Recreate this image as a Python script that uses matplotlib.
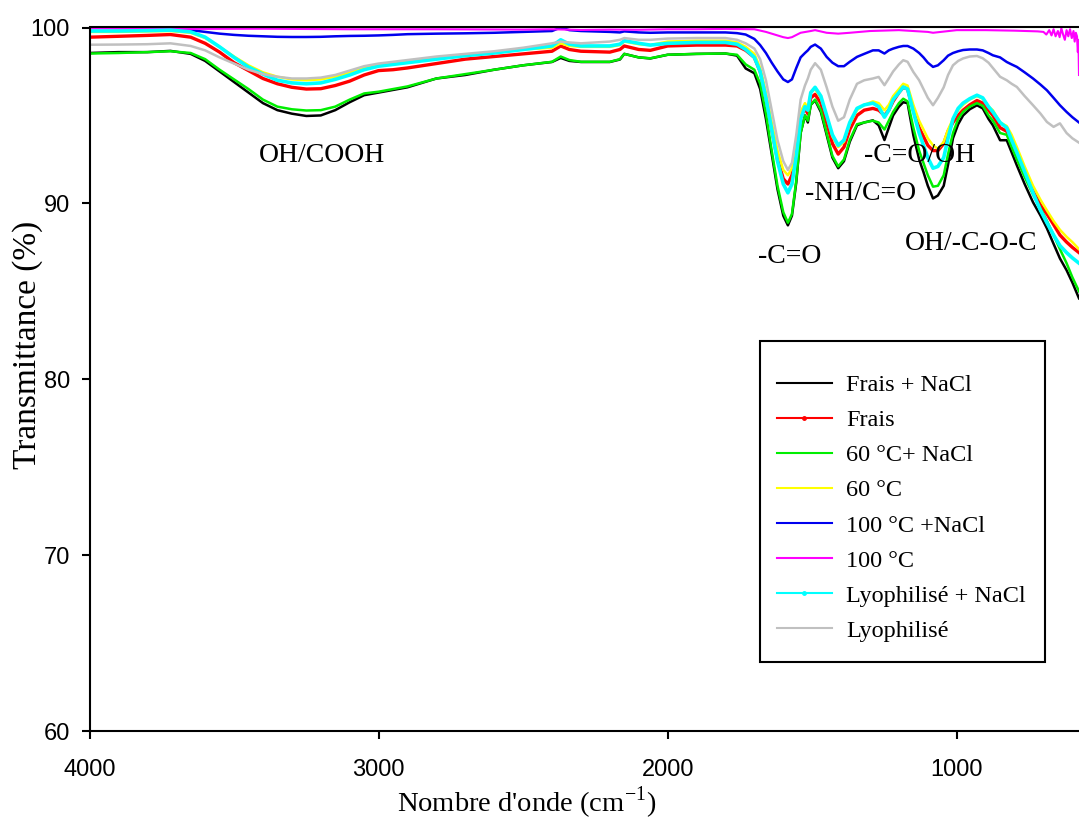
import matplotlib
matplotlib.use("Agg")
import matplotlib.pyplot as plt
from matplotlib.lines import Line2D
from matplotlib.patches import Rectangle

# Wavenumber grid (cm-1) shared by the main spectra
wavenumber = [4000, 3900, 3800, 3720, 3650, 3600, 3550, 3500, 3450, 3400, 3350, 3300,
              3250, 3200, 3150, 3100, 3050, 3000, 2950, 2900, 2800, 2700, 2600, 2500,
              2400, 2370, 2340, 2300, 2200, 2165, 2150, 2100, 2060, 2000, 1900, 1800,
              1760, 1730, 1700, 1680, 1660, 1640, 1620, 1600, 1584, 1570, 1555, 1540,
              1525, 1515, 1505, 1490, 1470, 1450, 1430, 1410, 1390, 1370, 1345, 1320,
              1290, 1270, 1250, 1235, 1220, 1200, 1185, 1170, 1150, 1130, 1115, 1100,
              1082, 1065, 1045, 1030, 1013, 995, 978, 955, 930, 910, 890, 875, 850,
              827, 810, 792, 765, 736, 710, 688, 665, 643, 620, 600, 577]

frais_nacl = [98.55, 98.6, 98.6, 98.67, 98.5, 98.1, 97.5, 96.9, 96.3, 95.7, 95.3, 95.1,
              94.97, 95.0, 95.3, 95.75, 96.15, 96.3, 96.45, 96.6, 97.1, 97.3, 97.6, 97.85,
              98.04, 98.27, 98.1, 98.04, 98.04, 98.18, 98.5, 98.3, 98.24, 98.45, 98.5, 98.52,
              98.4, 97.67, 97.4, 96.5, 94.8, 92.8, 90.8, 89.3, 88.75, 89.3, 91.2, 94.0,
              95.0, 94.6, 95.6, 95.86, 95.2, 93.9, 92.6, 92.0, 92.4, 93.5, 94.44, 94.6,
              94.72, 94.44, 93.6, 94.3, 95.0, 95.5, 95.75, 95.7, 93.87, 92.5, 91.78, 91.0,
              90.28, 90.45, 91.0, 92.2, 93.7, 94.5, 95.0, 95.35, 95.58, 95.4, 94.8, 94.44, 93.59,
              93.59, 92.9, 92.16, 91.1, 90.06, 89.3, 88.58, 87.7, 86.87, 86.2, 85.5, 84.6]

frais = [99.45, 99.5, 99.55, 99.6, 99.45, 99.1, 98.6, 98.0, 97.55, 97.1, 96.8, 96.6,
         96.5, 96.52, 96.7, 96.95, 97.3, 97.55, 97.6, 97.7, 97.95, 98.2, 98.35, 98.5,
         98.65, 98.95, 98.75, 98.65, 98.6, 98.75, 98.95, 98.75, 98.7, 98.95, 99.0, 99.0,
         98.95, 98.7, 98.3, 97.5, 96.0, 94.2, 92.5, 91.4, 91.1, 91.6, 93.0, 94.9,
         95.4, 95.1, 96.0, 96.2, 95.7, 94.6, 93.4, 92.8, 93.2, 94.2, 95.0, 95.3,
         95.4, 95.3, 95.0, 95.3, 95.8, 96.3, 96.6, 96.5, 95.3, 94.3, 93.8, 93.3,
         93.0, 93.0, 93.4, 94.1, 94.6, 95.0, 95.3, 95.6, 95.85, 95.7, 95.3, 95.0, 94.3,
         94.1, 93.6, 92.9, 91.8, 90.7, 89.9, 89.4, 88.8, 88.2, 87.8, 87.5, 87.2]

c60_nacl = [98.52, 98.55, 98.6, 98.65, 98.55, 98.2, 97.6, 97.05, 96.5, 95.9, 95.5, 95.35,
            95.28, 95.3, 95.5, 95.9, 96.25, 96.35, 96.5, 96.65, 97.1, 97.35, 97.6, 97.85,
            98.05, 98.35, 98.15, 98.05, 98.05, 98.2, 98.5, 98.3, 98.25, 98.45, 98.5, 98.52,
            98.45, 97.9, 97.6, 96.8, 95.1, 93.0, 91.0, 89.5, 88.9, 89.4, 91.3, 94.0,
            95.0, 94.7, 95.6, 95.9, 95.3, 94.0, 92.7, 92.1, 92.5, 93.6, 94.5, 94.6,
            94.7, 94.6, 94.2, 94.7, 95.2, 95.7, 95.95, 95.8, 94.3, 93.0, 92.3, 91.6,
            90.95, 91.0, 91.6, 92.8, 94.0, 94.8, 95.2, 95.5, 95.7, 95.55, 95.0, 94.7, 94.0,
            93.9, 93.2, 92.5, 91.5, 90.5, 89.7, 89.0, 88.2, 87.4, 86.6, 85.8, 85.0]

c60 = [99.75, 99.75, 99.78, 99.8, 99.7, 99.4, 98.9, 98.35, 97.85, 97.45, 97.2, 97.05,
       97.0, 97.05, 97.2, 97.45, 97.75, 97.9, 98.0, 98.1, 98.3, 98.45, 98.6, 98.75,
       98.85, 99.1, 98.95, 98.9, 98.9, 99.0, 99.2, 99.05, 99.0, 99.2, 99.25, 99.25,
       99.15, 98.9, 98.5, 97.7, 96.3, 94.6, 93.0, 91.9, 91.6, 92.0, 93.4, 95.2,
       95.7, 95.4, 96.3, 96.5, 96.0, 95.0, 93.8, 93.2, 93.5, 94.5, 95.3, 95.6,
       95.8, 95.7, 95.3, 95.6, 96.1, 96.5, 96.8, 96.7, 95.6, 94.7, 94.2, 93.7,
       93.3, 93.1, 93.5, 94.2, 94.8, 95.3, 95.6, 95.9, 96.1, 95.95, 95.5, 95.3, 94.6,
       94.4, 93.9, 93.2, 92.1, 91.0, 90.2, 89.6, 89.0, 88.5, 88.1, 87.8, 87.4]

c100_nacl = [100.0, 99.98, 99.97, 99.95, 99.85, 99.75, 99.65, 99.58, 99.53, 99.5, 99.47, 99.46,
             99.46, 99.47, 99.5, 99.52, 99.53, 99.55, 99.58, 99.62, 99.65, 99.67, 99.7, 99.75,
             99.8, 100.0, 99.85, 99.8, 99.75, 99.72, 99.78, 99.72, 99.7, 99.72, 99.72, 99.72,
             99.68, 99.6, 99.35, 99.0, 98.55, 98.0, 97.5, 97.05, 96.9, 97.05, 97.7, 98.3,
             98.55, 98.7, 98.9, 99.03, 98.8, 98.33, 98.0, 97.8, 97.8, 98.05, 98.33, 98.5,
             98.7, 98.7, 98.52, 98.7, 98.8, 98.9, 98.95, 98.95, 98.8, 98.55, 98.3, 98.0,
             97.76, 97.85, 98.14, 98.4, 98.55, 98.65, 98.72, 98.75, 98.75, 98.7, 98.55, 98.42, 98.3,
             98.04, 97.9, 97.76, 97.45, 97.1, 96.75, 96.43, 96.0, 95.58, 95.2, 94.9, 94.6]

lyo_nacl = [99.8, 99.8, 99.82, 99.85, 99.75, 99.45, 98.9, 98.3, 97.75, 97.35, 97.0, 96.85,
            96.8, 96.85, 97.05, 97.3, 97.6, 97.8, 97.9, 98.0, 98.2, 98.4, 98.55, 98.75,
            98.95, 99.3, 99.05, 98.95, 98.95, 99.05, 99.25, 99.1, 99.0, 99.1, 99.15, 99.15,
            99.05, 98.75, 98.3, 97.5, 96.0, 94.2, 92.4, 91.1, 90.6, 91.1, 92.7, 94.8,
            95.5, 95.3, 96.3, 96.6, 96.1, 95.0, 93.9, 93.3, 93.6, 94.6, 95.4, 95.6,
            95.7, 95.5, 94.9, 95.3, 95.9, 96.3, 96.62, 96.5, 95.2, 94.0, 93.3, 92.6,
            92.0, 92.1, 92.6, 93.7, 94.8, 95.4, 95.7, 95.95, 96.15, 96.0, 95.5, 95.2, 94.6,
            94.3, 93.6, 92.9, 91.8, 90.6, 89.6, 88.9, 88.2, 87.6, 87.2, 86.9, 86.6]

lyo = [99.02, 99.03, 99.05, 99.1, 98.95, 98.7, 98.3, 97.95, 97.6, 97.35, 97.2, 97.1,
       97.1, 97.15, 97.3, 97.55, 97.8, 97.95, 98.05, 98.15, 98.35, 98.5, 98.65, 98.85,
       99.1, 99.2, 99.15, 99.1, 99.2, 99.3, 99.4, 99.3, 99.3, 99.37, 99.4, 99.4,
       99.3, 99.1, 98.8, 98.2, 97.0, 95.3, 93.6, 92.4, 91.9, 92.3, 93.9, 95.9,
       96.7, 97.1, 97.6, 97.97, 97.6, 96.6, 95.5, 94.7, 94.9, 95.9, 96.8, 97.0,
       97.1, 97.19, 96.72, 97.1, 97.5, 97.9, 98.14, 98.05, 97.47, 97.0, 96.5, 96.0,
       95.58, 96.0, 96.6, 97.3, 97.85, 98.1, 98.24, 98.35, 98.38, 98.25, 98.0, 97.7, 97.2,
       97.0, 96.8, 96.62, 96.1, 95.58, 95.1, 94.63, 94.35, 94.55, 94.0, 93.7, 93.45]

# The 100 °C spectrum is sampled on its own grid (noisy low-wavenumber end)
wavenumber_c100 = [4000, 3700, 3400, 3100, 2800, 2500, 2400, 2300, 2200, 2100, 2000, 1900,
                   1800, 1700, 1660, 1620, 1600, 1584, 1570, 1540, 1505, 1490, 1450, 1410,
                   1370, 1300, 1200, 1100, 1082, 1000, 900, 800, 720, 700, 690, 680, 672,
                   665, 658, 650, 644, 638, 632, 626, 620, 614, 608, 602, 596, 592, 588,
                   584, 581, 579, 577]
c100 = [99.95, 99.92, 99.93, 99.9, 99.9, 99.88, 99.9, 99.86, 99.88, 99.87, 99.9, 99.9,
        99.92, 99.9, 99.75, 99.55, 99.45, 99.4, 99.45, 99.7, 99.8, 99.85, 99.7, 99.65,
        99.7, 99.8, 99.85, 99.75, 99.7, 99.85, 99.85, 99.82, 99.78, 99.75, 99.6, 99.85,
        99.55, 99.9, 99.5, 99.8, 99.45, 99.95, 99.6, 99.3, 99.85, 99.5, 99.9, 99.4,
        99.8, 99.2, 99.7, 99.5, 98.6, 99.3, 97.3]

series = [
    ("Frais + NaCl", wavenumber, frais_nacl, "#000000", 1.8),
    ("Frais", wavenumber, frais, "#ff0000", 2.4),
    ("60 °C+ NaCl", wavenumber, c60_nacl, "#00ee00", 1.8),
    ("60 °C", wavenumber, c60, "#ffff00", 1.8),
    ("100 °C +NaCl", wavenumber, c100_nacl, "#0000ee", 1.8),
    ("100 °C", wavenumber_c100, c100, "#ff00ff", 1.5),
    ("Lyophilisé + NaCl", wavenumber, lyo_nacl, "#00ffff", 2.6),
    ("Lyophilisé", wavenumber, lyo, "#c0c0c0", 1.8),
]

band_labels = ["OH/COOH", "-C=O", "-NH/C=O", "-C=O/OH", "OH/-C-O-C"]
band_x = [3194, 1577, 1331, 1129, 951]
band_y = [92.73, 86.98, 90.57, 92.73, 87.72]

serif = ["Liberation Serif", "DejaVu Serif"]
narrow = ["Liberation Sans Narrow", "Liberation Sans", "DejaVu Sans"]

W, H = 1079, 821
fig = plt.figure(figsize=(W / 100, H / 100), dpi=100)
ax = fig.add_axes([89.5 / W, 1 - 731 / H, 1 - 89.5 / W, (731 - 27.5) / H])

for label, x, y, color, lw in series:
    ax.plot(x, y, color=color, lw=lw, label=label, solid_joinstyle="round")

ax.set_xlim(4000, 577)
ax.set_ylim(60, 100)
ax.set_xticks([4000, 3000, 2000, 1000])
ax.set_yticks([60, 70, 80, 90, 100])

for s in ("left", "bottom", "top"):
    ax.spines[s].set_linewidth(1.5)
ax.spines["right"].set_visible(False)
ax.tick_params(axis="both", direction="out", length=6, width=1.5, top=False, right=False)
ax.tick_params(axis="x", pad=14)
ax.tick_params(axis="y", pad=8)
for t in ax.get_xticklabels() + ax.get_yticklabels():
    t.set_family(narrow)
    t.set_fontsize(17)

ax.set_xlabel("Nombre d'onde (cm$^{\\mathregular{-1}}$)", family=serif, fontsize=20.5)
ax.xaxis.label.set_va("center")
ax.xaxis.set_label_coords(0.442, -0.1023)
ax.set_ylabel("Transmittance (%)", family=serif, fontsize=24)
ax.yaxis.label.set_va("center")
ax.yaxis.set_label_coords(-0.0625, 0.549)

for txt, x, y in zip(band_labels, band_x, band_y):
    ax.text(x, y, txt, family=serif, fontsize=20, ha="center", va="center", zorder=10)

# Legend: entries without frame, box drawn separately
handles = []
for label, x, y, color, lw in series:
    mk = "o" if label in ("Frais", "Lyophilisé + NaCl") else None
    handles.append(Line2D([], [], color=color, lw=1.5, marker=mk, ms=2.5,
                          markeredgecolor=color, markerfacecolor=color, label=label))
ax.legend(handles=handles, loc="upper left", bbox_to_anchor=(777 / W, 1 - 374 / H),
          bbox_transform=fig.transFigure, borderaxespad=0, borderpad=0, frameon=False,
          prop={"family": serif, "size": 17.5}, handlelength=2.26, handletextpad=0.58,
          labelspacing=0.54, numpoints=1)
fig.patches.append(Rectangle((760 / W, 1 - 662 / H), (1045 - 760) / W, (662 - 341) / H,
                             transform=fig.transFigure, fill=False, edgecolor="black",
                             linewidth=1.5, zorder=5))

fig.savefig("out.png", dpi=100)
